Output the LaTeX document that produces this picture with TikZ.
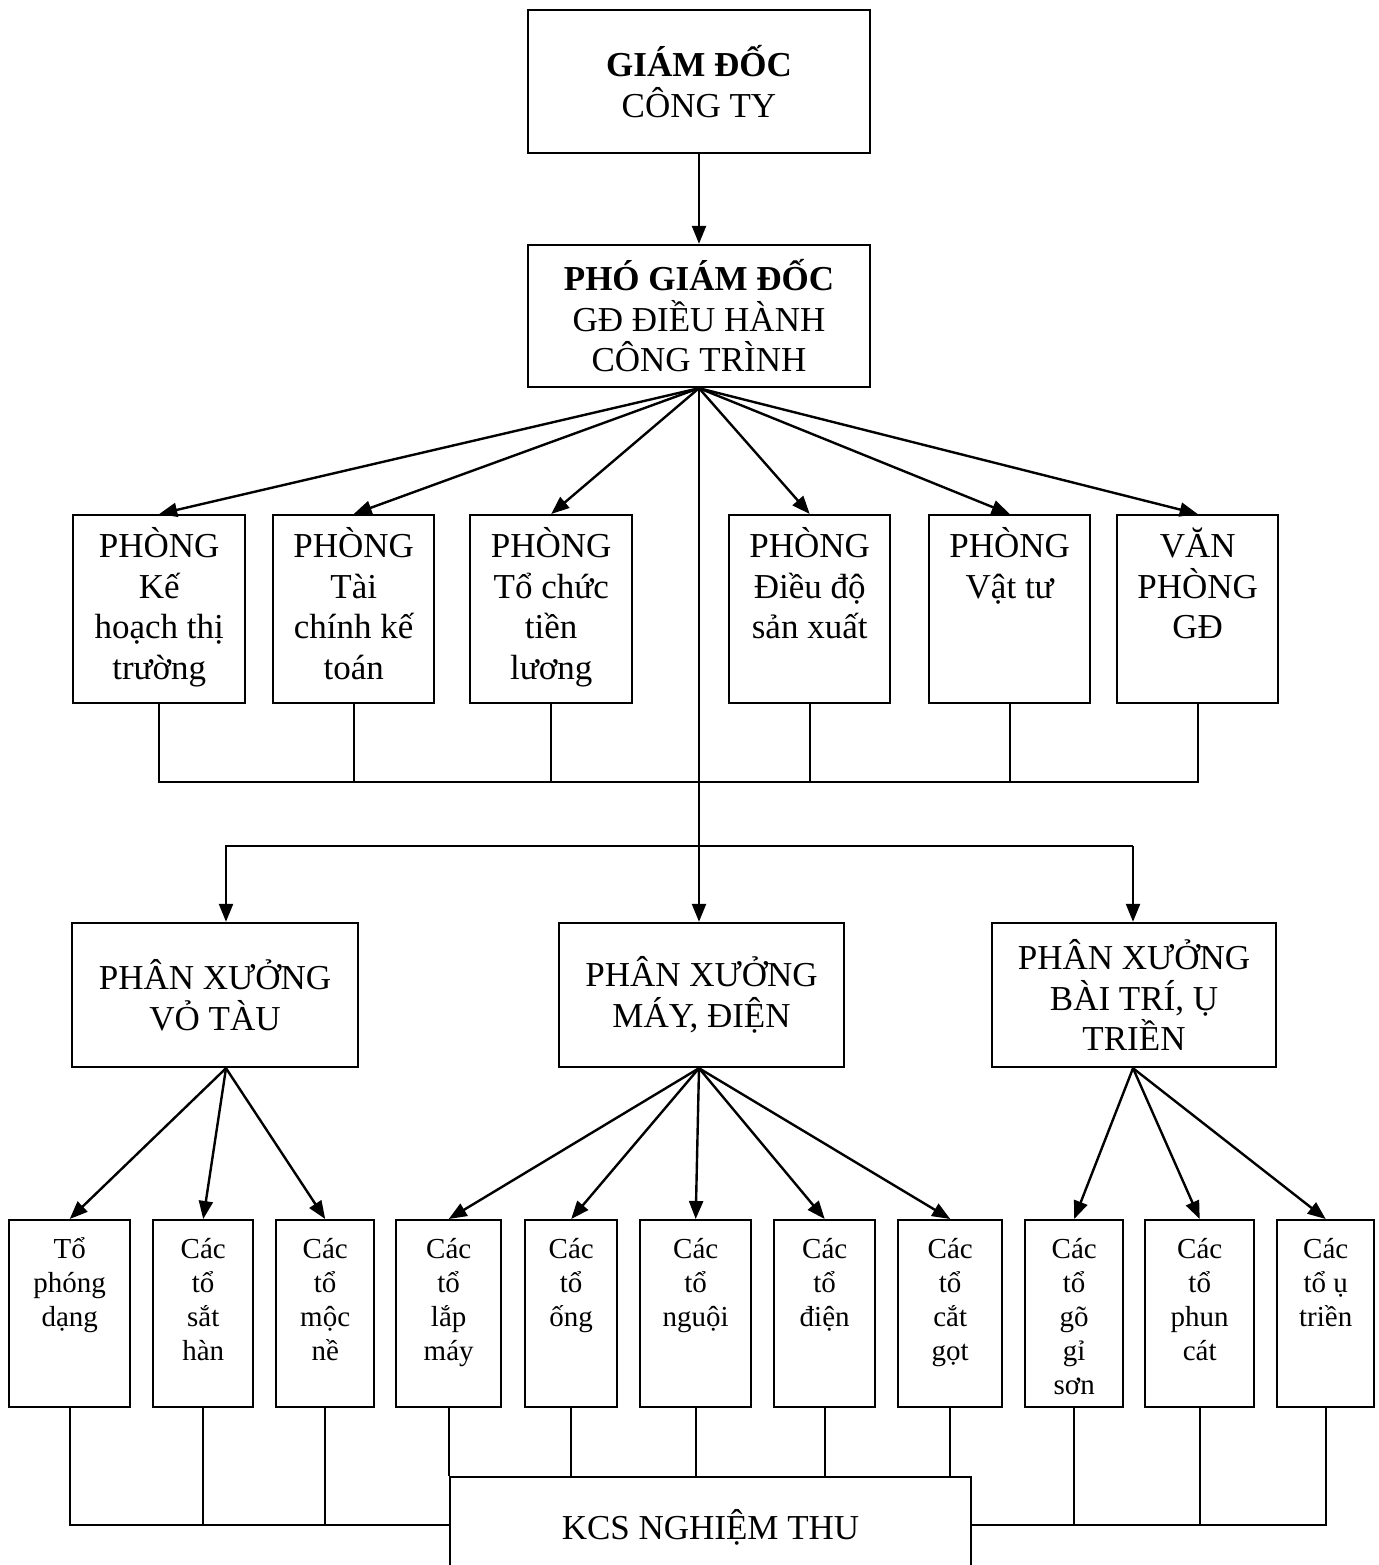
\documentclass[tikz,border=0pt]{standalone}
\usepackage{fontspec}
\setmainfont{Liberation Serif}
\usetikzlibrary{arrows.meta}
% top-aligned text block of fixed size: width, height, first baseline, text
\newcommand\topbox[4]{\parbox[c][#2][t]{#1}{\centering\rule{0pt}{#3}#4\par}}
\begin{document}
\begin{tikzpicture}[x=1pt,y=-1pt,
  box/.style={draw, line width=2.4pt, inner sep=0pt, fill=white},
  big/.style={font=\fontsize{35}{40.5}\selectfont, align=center},
  unit/.style={box, anchor=north west, font=\fontsize{35}{40.5}\selectfont},
  team/.style={box, anchor=north west, font=\fontsize{29}{34}\selectfont},
  arr/.style={line width=2.4pt, -{Triangle[length=18pt,width=14pt]}},
  link/.style={line width=1.7pt},
]
\useasboundingbox (0,0) rectangle (1378,1565);
\clip (0,0) rectangle (1378,1565);

% management
\node[box, big, minimum width=342pt, minimum height=143pt] (gd) at (699,81.5)
  {\textbf{GIÁM ĐỐC}\\CÔNG TY};
\node[box, big, minimum width=342pt, minimum height=142pt] (pgd) at (699,316)
  {\textbf{PHÓ GIÁM ĐỐC}\\GĐ ĐIỀU HÀNH\\CÔNG TRÌNH};

% departments
\node[unit] (p1) at (72,514)   {\topbox{172pt}{188pt}{42.5pt}{PHÒNG\\Kế\\hoạch thị\\trường}};
\node[unit] (p2) at (272,514)  {\topbox{161pt}{188pt}{42.5pt}{PHÒNG\\Tài\\chính kế\\toán}};
\node[unit] (p3) at (469,514)  {\topbox{162pt}{188pt}{42.5pt}{PHÒNG\\Tổ chức\\tiền\\lương}};
\node[unit] (p4) at (728,514)  {\topbox{161pt}{188pt}{42.5pt}{PHÒNG\\Điều độ\\sản xuất}};
\node[unit] (p5) at (928,514)  {\topbox{161pt}{188pt}{42.5pt}{PHÒNG\\Vật tư}};
\node[unit] (p6) at (1116,514) {\topbox{161pt}{188pt}{42.5pt}{VĂN\\PHÒNG\\GĐ}};

% workshops
\node[box, big, minimum width=286pt, minimum height=144pt] (px1) at (215,995)
  {PHÂN XƯỞNG\\VỎ TÀU};
\node[box, big, minimum width=285pt, minimum height=144pt] (px2) at (701.5,995)
  {PHÂN XƯỞNG\\MÁY, ĐIỆN};
\node[box, big, minimum width=284pt, minimum height=144pt] (px3) at (1134,995)
  {PHÂN XƯỞNG\\BÀI TRÍ, Ụ\\TRIỀN};

% teams
\node[team] (b1)  at (8,1219)    {\topbox{121pt}{187pt}{38.5pt}{Tổ\\phóng\\dạng}};
\node[team] (b2)  at (152,1219)  {\topbox{100pt}{187pt}{38.5pt}{Các\\tổ\\sắt\\hàn}};
\node[team] (b3)  at (275,1219)  {\topbox{98pt}{187pt}{38.5pt}{Các\\tổ\\mộc\\nề}};
\node[team] (b4)  at (395,1219)  {\topbox{105pt}{187pt}{38.5pt}{Các\\tổ\\lắp\\máy}};
\node[team] (b5)  at (524,1219)  {\topbox{92pt}{187pt}{38.5pt}{Các\\tổ\\ống}};
\node[team] (b6)  at (639,1219)  {\topbox{111pt}{187pt}{38.5pt}{Các\\tổ\\nguội}};
\node[team] (b7)  at (773,1219)  {\topbox{101pt}{187pt}{38.5pt}{Các\\tổ\\điện}};
\node[team] (b8)  at (897,1219)  {\topbox{104pt}{187pt}{38.5pt}{Các\\tổ\\cắt\\gọt}};
\node[team] (b9)  at (1024,1219) {\topbox{98pt}{187pt}{38.5pt}{Các\\tổ\\gõ\\gỉ\\sơn}};
\node[team] (b10) at (1144,1219) {\topbox{109pt}{187pt}{38.5pt}{Các\\tổ\\phun\\cát}};
\node[team] (b11) at (1276,1219) {\topbox{97pt}{187pt}{38.5pt}{Các\\tổ ụ\\triền}};

% inspection
\node[box, big, minimum width=521pt, minimum height=100pt] (kcs) at (710.5,1527)
  {KCS NGHIỆM THU};

% helper points
\coordinate (pbus) at (0,782);
\coordinate (hl) at (226,846);
\coordinate (hr) at (1133,846);
\coordinate (lbus) at (0,1525);
\coordinate (f1) at (hl |- px1.south);
\coordinate (f2) at (pgd.south |- px2.south);
\coordinate (f3) at (hr |- px3.south);

% director chain
\draw[arr] (gd.south) -- (pgd.north);
\foreach \i in {1,...,6} \draw[arr] (pgd.south) -- (p\i.north);

% department bus
\draw[link] (p1.south) -- (p1.south |- pbus) -- (p6.south |- pbus) -- (p6.south);
\foreach \i in {2,...,5} \draw[link] (p\i.south) -- (p\i.south |- pbus);

% to workshops
\draw[arr] (pgd.south) -- (pgd.south |- px2.north);
\draw[arr] (hr) -- (hl) -- (hl |- px1.north);
\draw[arr] (hr) -- (hr |- px3.north);

% workshop fans
\foreach \i in {1,2,3} \draw[arr] (f1) -- (b\i.north);
\foreach \i in {4,...,8} \draw[arr] (f2) -- (b\i.north);
\foreach \i in {9,10,11} \draw[arr] (f3) -- (b\i.north);

% teams to inspection
\draw[link] (b1.south) -- (b1.south |- lbus) -- (kcs.west |- lbus);
\foreach \i in {2,3} \draw[link] (b\i.south) -- (b\i.south |- lbus);
\foreach \i in {4,...,8} \draw[link] (b\i.south) -- (b\i.south |- kcs.north);
\draw[link] (kcs.east |- lbus) -- (b11.south |- lbus) -- (b11.south);
\foreach \i in {9,10} \draw[link] (b\i.south) -- (b\i.south |- lbus);
\end{tikzpicture}
\end{document}
